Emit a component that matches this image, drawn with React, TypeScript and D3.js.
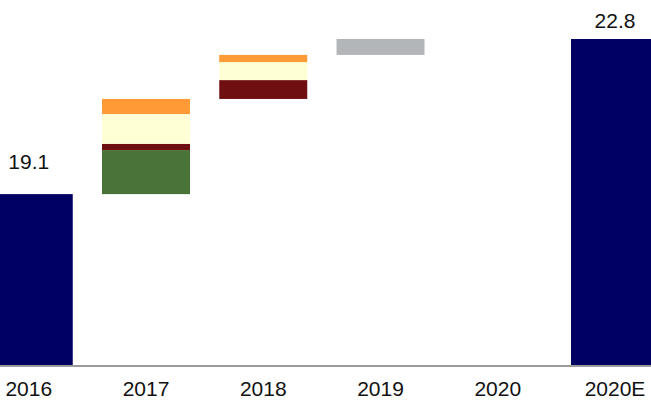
import React from "react";
import * as d3 from "d3";

const categories = ["2016", "2017", "2018", "2019", "2020", "2020E"];
const totals = [19.1, 0, 0, 0, 0, 22.8];
const totalLabels = ["19.1", "", "", "", "", "22.8"];

// increments, stacked bottom to top
const greenSeg = [0, 1.05, 0, 0, 0, 0];
const redSeg = [0, 0.15, 0.45, 0, 0, 0];
const yellowSeg = [0, 0.71, 0.43, 0, 0, 0];
const orangeSeg = [0, 0.36, 0.17, 0, 0, 0];
const graySeg = [0, 0, 0, 0.38, 0, 0];

const segSeries = [
  { name: "green", values: greenSeg, color: "#4a7337" },
  { name: "red", values: redSeg, color: "#6f0f11" },
  { name: "yellow", values: yellowSeg, color: "#ffffd5" },
  { name: "orange", values: orangeSeg, color: "#ff9a36" },
  { name: "gray", values: graySeg, color: "#b3b6b9" },
];

const width = 651;
const height = 404;
const axisMin = 15;
const font = "Liberation Sans, Arial, sans-serif";

export default function App() {
  const x = d3
    .scaleBand()
    .domain(categories)
    .range([-15.25, 659])
    .paddingInner(0.2495)
    .paddingOuter(0);
  const y = d3.scaleLinear().domain([axisMin, 22.8]).range([366, 39]);

  // floating bars start where the previous column ended
  const rects: { key: string; x: number; y0: number; y1: number; color: string }[] = [];
  let running = totals[0];
  categories.forEach((c, i) => {
    if (totals[i] > 0) {
      rects.push({ key: `t-${c}`, x: x(c)!, y0: axisMin, y1: totals[i], color: "#000062" });
      return;
    }
    segSeries.forEach((s) => {
      const v = s.values[i];
      if (v > 0) {
        rects.push({ key: `${s.name}-${c}`, x: x(c)!, y0: running, y1: running + v, color: s.color });
        running += v;
      }
    });
  });

  const labelGap = [25, 0, 0, 0, 0, 11];

  return (
    <div style={{ position: "absolute", left: 0, top: 0, width, height, overflow: "hidden" }}>
      <svg width={width} height={height} style={{ display: "block" }}>
        <rect width={width} height={height} fill="#fff" />
        {rects.map((r) => (
          <rect
            key={r.key}
            x={r.x}
            y={y(r.y1)}
            width={x.bandwidth()}
            height={y(r.y0) - y(r.y1)}
            fill={r.color}
          />
        ))}
        <line x1={0} x2={width} y1={366} y2={366} stroke="#9b9b9b" strokeWidth={1.8} />
        {categories.map((c) => (
          <text
            key={c}
            x={x(c)! + x.bandwidth() / 2}
            y={396}
            textAnchor="middle"
            fontFamily={font}
            fontSize={21}
            fill="#111"
          >
            {c}
          </text>
        ))}
        {categories.map((c, i) =>
          totalLabels[i] ? (
            <text
              key={`l-${c}`}
              x={x(c)! + x.bandwidth() / 2}
              y={y(totals[i]) - labelGap[i]}
              textAnchor="middle"
              fontFamily={font}
              fontSize={21}
              fill="#111"
            >
              {totalLabels[i]}
            </text>
          ) : null
        )}
      </svg>
    </div>
  );
}
